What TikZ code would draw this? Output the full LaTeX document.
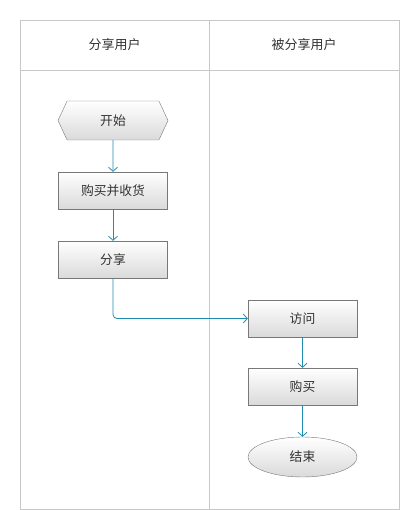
\documentclass[tikz,border=0pt]{standalone}
\usepackage{fontspec}
\setmainfont{Noto Sans CJK SC}
\usepackage{tikz}
\usetikzlibrary{arrows.meta, positioning, shapes.geometric, shapes.symbols}
\definecolor{cline}{RGB}{200,200,200}
\definecolor{cedge}{RGB}{120,120,120}
\definecolor{cflow}{RGB}{30,140,175}
\definecolor{ctext}{RGB}{51,51,51}
\definecolor{cshade}{RGB}{218,218,218}

\begin{document}
\begin{tikzpicture}[
    x=1pt, y=-1pt,
    >={Straight Barb[length=4pt, width=9pt]},
    stepbox/.style={draw=cedge, top color=white, bottom color=cshade, minimum width=109pt, minimum height=37pt, font=\fontsize{12.8}{14}\selectfont, text=ctext, inner sep=0pt},
    startbox/.style={stepbox, signal, signal to=west and east, signal pointer angle=130, minimum width=110pt, minimum height=39pt},
    endbox/.style={stepbox, ellipse, minimum width=109pt, minimum height=40pt},
    flow/.style={->, cflow, line width=0.8pt},
    lane/.style={draw=cline, line width=0.8pt},
]
    \useasboundingbox (0,0) rectangle (400,510);

    % Swimlanes
    \draw[lane] (20.5,20) rectangle (399.5,509);
    \draw[lane] (20.5,70) -- (399.5,70);
    \draw[lane] (209,20) -- (209,509);
    \node[font=\fontsize{13}{14}\selectfont, text=ctext] (lane1) at (114.5,45) {分享用户};
    \node[font=\fontsize{13}{14}\selectfont, text=ctext] (lane2) at (304,45) {被分享用户};

    % Sharing user
    \node[startbox] (start) at (113,120.5) {开始};
    \node[stepbox] (buy1) at (113,190.5) {购买并收货};
    \node[stepbox] (share) at (113,259.5) {分享};

    % Shared user
    \node[stepbox] (visit) at (302.5,318.5) {访问};
    \node[stepbox] (buy2) at (302.5,386.5) {购买};
    \node[endbox] (stop) at (302.5,457) {结束};

    \draw[flow] (start) -- (buy1);
    \draw[flow] (buy1) -- (share);
    \draw[flow, rounded corners=4pt] (share.south) |- (visit.west);
    \draw[flow] (visit) -- (buy2);
    \draw[flow] (buy2) -- (stop);
\end{tikzpicture}
\end{document}
